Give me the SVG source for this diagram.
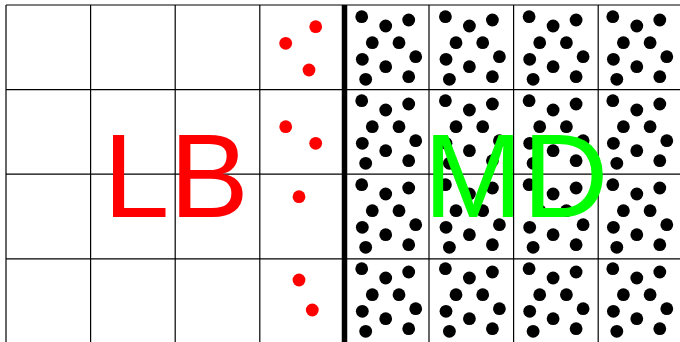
<svg xmlns="http://www.w3.org/2000/svg" xmlns:xlink="http://www.w3.org/1999/xlink" width="680" height="342" viewBox="0 0 680 342">
  <style>
    .grid { stroke: #000; stroke-width: 1.2; fill: none; }
    .wall { stroke: #000; stroke-width: 5.5; }
    .md { fill: #000; }
    .p { fill: #ff0000; }
    .label { font-family: "Liberation Sans", Arial, sans-serif; font-size: 119px; text-anchor: middle; }
  </style>
  <defs>
    <g id="dots" class="md">
      <circle cx="17.2" cy="11.7" r="6.4"/>
      <circle cx="41.2" cy="21" r="6.4"/>
      <circle cx="64.2" cy="15" r="6.4"/>
      <circle cx="27.8" cy="37.7" r="6.4"/>
      <circle cx="54.5" cy="37.7" r="6.4"/>
      <circle cx="17.8" cy="54.3" r="6.4"/>
      <circle cx="41.2" cy="61.7" r="6.4"/>
      <circle cx="71.2" cy="51.7" r="6.4"/>
      <circle cx="21.2" cy="74.3" r="6.4"/>
      <circle cx="64.2" cy="71.7" r="6.4"/>
    </g>
  </defs>
  <rect width="680" height="342" fill="#fff"/>
  <g id="md-region">
    <use xlink:href="#dots" href="#dots" x="344.5" y="5"/>
    <use xlink:href="#dots" href="#dots" x="428.2" y="5"/>
    <use xlink:href="#dots" href="#dots" x="511.9" y="5"/>
    <use xlink:href="#dots" href="#dots" x="595.6" y="5"/>
    <use xlink:href="#dots" href="#dots" x="344.5" y="89"/>
    <use xlink:href="#dots" href="#dots" x="428.2" y="89"/>
    <use xlink:href="#dots" href="#dots" x="511.9" y="89"/>
    <use xlink:href="#dots" href="#dots" x="595.6" y="89"/>
    <use xlink:href="#dots" href="#dots" x="344.5" y="173"/>
    <use xlink:href="#dots" href="#dots" x="428.2" y="173"/>
    <use xlink:href="#dots" href="#dots" x="511.9" y="173"/>
    <use xlink:href="#dots" href="#dots" x="595.6" y="173"/>
    <use xlink:href="#dots" href="#dots" x="344.5" y="257"/>
    <use xlink:href="#dots" href="#dots" x="428.2" y="257"/>
    <use xlink:href="#dots" href="#dots" x="511.9" y="257"/>
    <use xlink:href="#dots" href="#dots" x="595.6" y="257"/>
  </g>
  <g id="particles" class="p">
    <circle cx="315.7" cy="26.7" r="6.4"/>
    <circle cx="285.7" cy="43.3" r="6.4"/>
    <circle cx="309" cy="70" r="6.4"/>
    <circle cx="285.7" cy="126.7" r="6.4"/>
    <circle cx="315.7" cy="143.3" r="6.4"/>
    <circle cx="299" cy="196.7" r="6.4"/>
    <circle cx="299" cy="280" r="6.4"/>
    <circle cx="312.3" cy="310" r="6.4"/>
  </g>
  <g id="grid" class="grid">
    <line x1="6" y1="5" x2="680" y2="5"/>
    <line x1="6" y1="89.6" x2="680" y2="89.6"/>
    <line x1="6" y1="174.2" x2="680" y2="174.2"/>
    <line x1="6" y1="258.8" x2="680" y2="258.8"/>
    <line x1="6" y1="5" x2="6" y2="342"/>
    <line x1="90.6" y1="5" x2="90.6" y2="342"/>
    <line x1="175.2" y1="5" x2="175.2" y2="342"/>
    <line x1="259.8" y1="5" x2="259.8" y2="342"/>
    <line x1="429" y1="5" x2="429" y2="342"/>
    <line x1="513.6" y1="5" x2="513.6" y2="342"/>
    <line x1="598.2" y1="5" x2="598.2" y2="342"/>
  </g>
  <line id="interface" class="wall" x1="344.5" y1="5" x2="344.5" y2="342"/>
  <text id="lb-label" class="label" x="176" y="217" fill="#ff0000">LB</text>
  <text id="md-label" class="label" x="516" y="217" fill="#00ff00">MD</text>
</svg>
